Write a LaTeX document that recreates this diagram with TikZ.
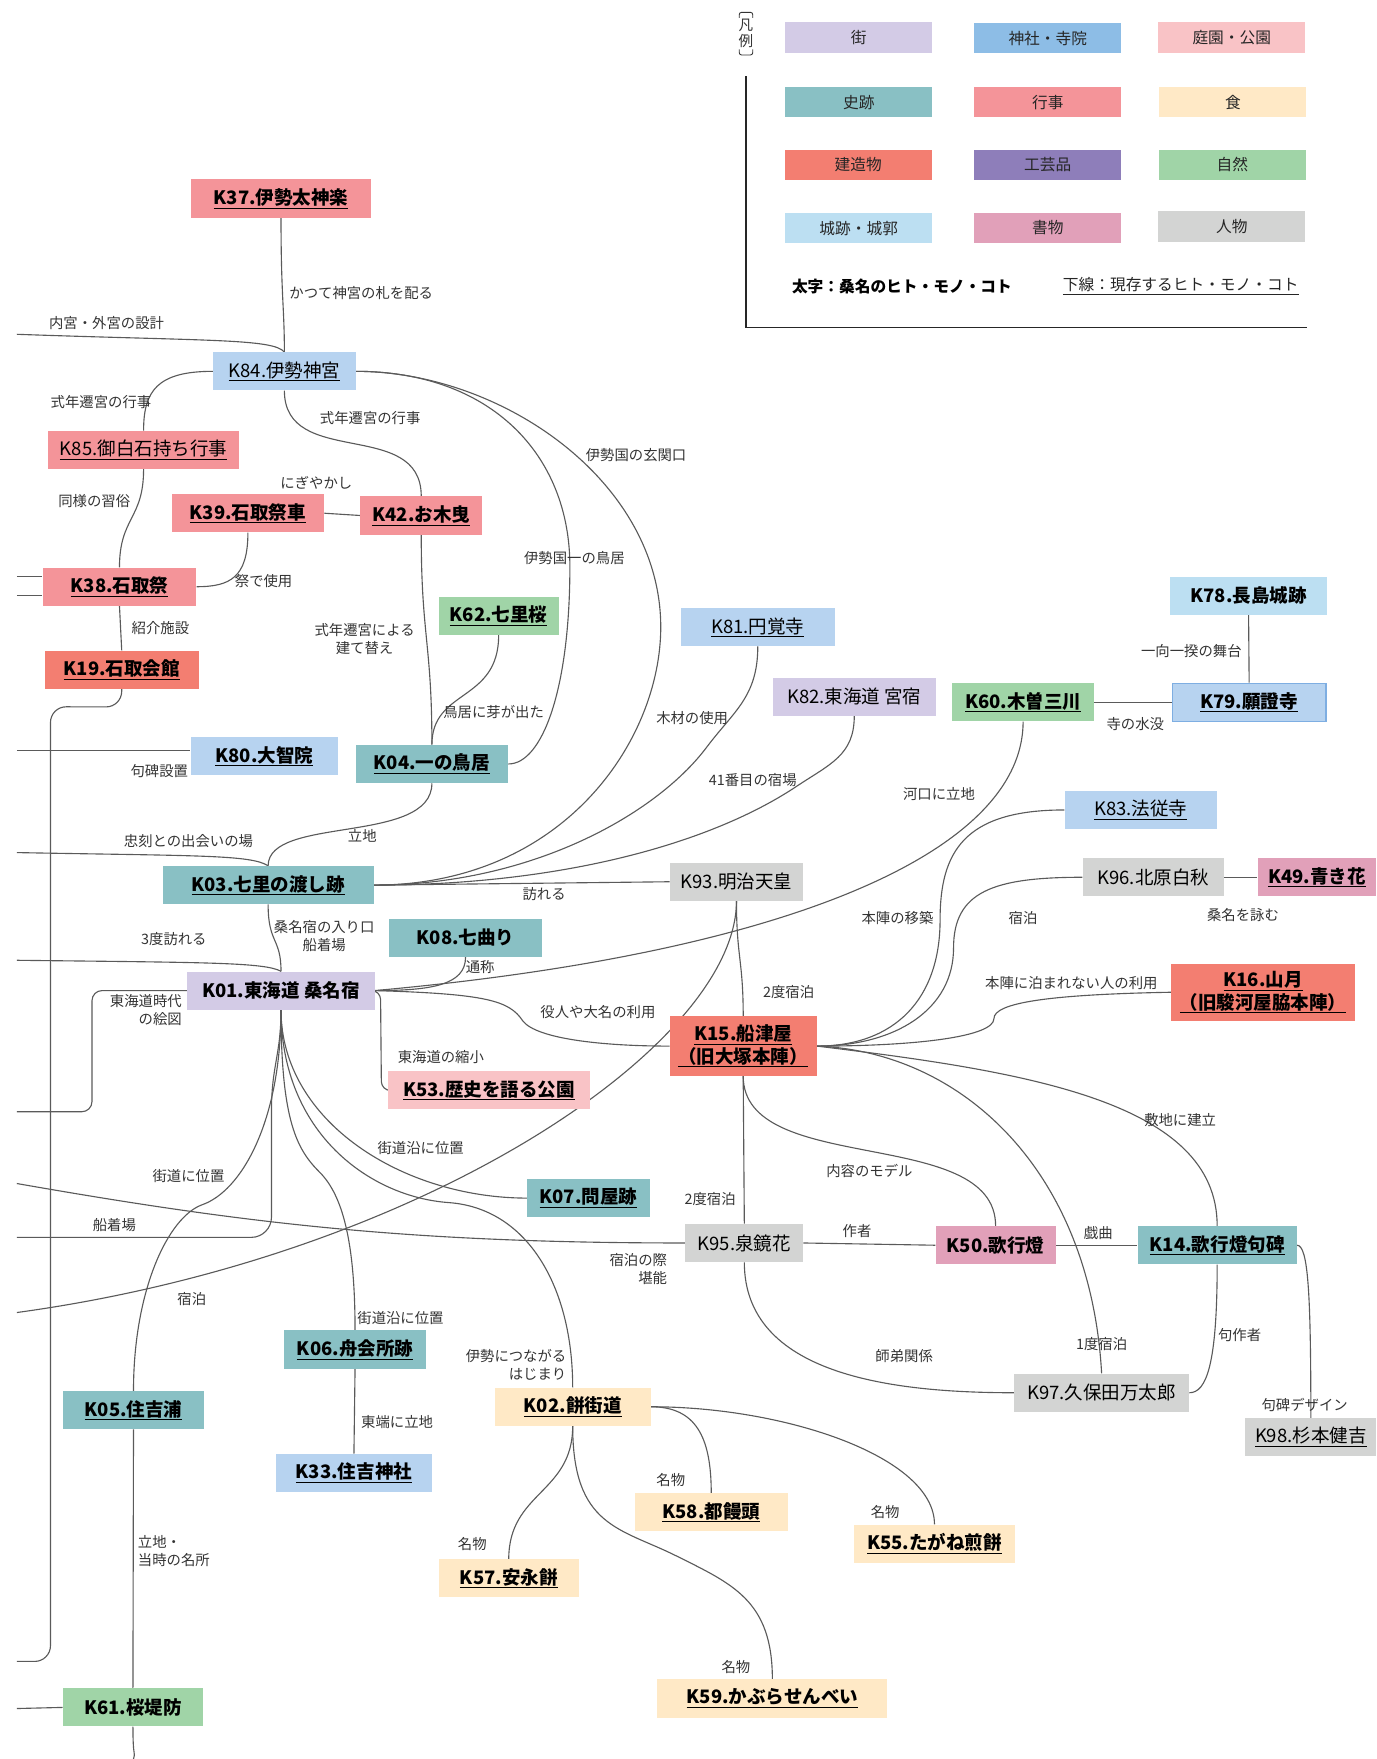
\documentclass[tikz,border=0pt]{standalone}
\usepackage{fontspec}
\setmainfont{Noto Sans CJK JP}
\usetikzlibrary{backgrounds}

\definecolor{cMachi}{HTML}{D3CBE6}
\definecolor{cJisha}{HTML}{8DBDE6}
\definecolor{cTera}{HTML}{B7D3F0}
\definecolor{cTeien}{HTML}{F9C3C6}
\definecolor{cShiseki}{HTML}{89C0C4}
\definecolor{cGyouji}{HTML}{F49499}
\definecolor{cShoku}{HTML}{FFE9C6}
\definecolor{cKenzo}{HTML}{F37E71}
\definecolor{cKougei}{HTML}{8E7EBA}
\definecolor{cShizen}{HTML}{A0D4A7}
\definecolor{cShiro}{HTML}{BCDFF2}
\definecolor{cShomotsu}{HTML}{E1A0B9}
\definecolor{cJinbutsu}{HTML}{D3D4D3}
\definecolor{cLine}{HTML}{5A5A5A}
\definecolor{cWaku}{HTML}{7EAEE2}

\tikzset{
  box/.style={inner sep=0pt, minimum height=34, text=black,
    font=\fontsize{16.5}{20}\selectfont},
  hanrei/.style={inner sep=0pt, minimum width=131, minimum height=27,
    text=black!85, font=\fontsize{14}{16}\selectfont},
  rel/.style={draw=cLine, line width=1pt},
  lab/.style={inner sep=0pt, text=black!80, font=\fontsize{12.8}{16}\selectfont},
}

\begin{document}
\begin{tikzpicture}[x=1pt,y=-1pt]
\useasboundingbox (0,0) rectangle (1227,1568);

% legend
\node[lab, align=center, font=\fontsize{13}{14}\selectfont] (hanreimark) at (665,30) {凡\\例};
\draw[black!80, line width=0.8pt, rounded corners=2] (659,16) -- (659,11) -- (671,11) -- (671,16);
\draw[black!80, line width=0.8pt, rounded corners=2] (659,44) -- (659,49) -- (671,49) -- (671,44);
\draw[black!85, line width=1.5pt] (665,68) -- (665,292) -- (1165,292);
\node[hanrei, fill=cMachi] (lg1) at (765.5,33.5) {街};
\node[hanrei, fill=cJisha] (lg2) at (934,34) {神社・寺院};
\node[hanrei, fill=cTeien] (lg3) at (1098,33.5) {庭園・公園};
\node[hanrei, fill=cShiseki] (lg4) at (765.5,91) {史跡};
\node[hanrei, fill=cGyouji] (lg5) at (934,91) {行事};
\node[hanrei, fill=cShoku] (lg6) at (1099,91) {食};
\node[hanrei, fill=cKenzo] (lg7) at (765,147) {建造物};
\node[hanrei, fill=cKougei] (lg8) at (934,147) {工芸品};
\node[hanrei, fill=cShizen] (lg9) at (1098.5,147) {自然};
\node[hanrei, fill=cShiro] (lg10) at (765.5,203.5) {城跡・城郭};
\node[hanrei, fill=cShomotsu] (lg11) at (934,203) {書物};
\node[hanrei, fill=cJinbutsu] (lg12) at (1098,202) {人物};
\node[inner sep=0pt, font=\fontsize{14}{16}\selectfont\bfseries] (futoji) at (804,255) {太字：桑名のヒト・モノ・コト};
\node[inner sep=0pt, text=black!85, font=\fontsize{14}{16}\selectfont] (shitasen) at (1052.5,255) {\underline{下線：現存するヒト・モノ・コト}};

% nodes
\node[box, fill=cGyouji, minimum width=161] (k37) at (250.5,177) {\textbf{\underline{K37.伊勢太神楽}}};
\node[box, fill=cTera, minimum width=127] (k84) at (253.5,331) {\underline{K84.伊勢神宮}};
\node[box, fill=cGyouji, minimum width=170] (k85) at (128,401) {\underline{K85.御白石持ち行事}};
\node[box, fill=cGyouji, minimum width=136] (k39) at (221,457.5) {\textbf{\underline{K39.石取祭車}}};
\node[box, fill=cGyouji, minimum width=109] (k42) at (375.5,459.5) {\textbf{\underline{K42.お木曳}}};
\node[box, fill=cGyouji, minimum width=137] (k38) at (106.5,523) {\textbf{\underline{K38.石取祭}}};
\node[box, fill=cKenzo, minimum width=137] (k19) at (108.5,597) {\textbf{\underline{K19.石取会館}}};
\node[box, fill=cShizen, minimum width=107] (k62) at (444.5,549) {\textbf{\underline{K62.七里桜}}};
\node[box, fill=cTera, minimum width=137] (k81) at (675.5,559) {\underline{K81.円覚寺}};
\node[box, fill=cMachi, minimum width=145] (k82) at (761.5,621) {K82.東海道 宮宿};
\node[box, fill=cShiro, minimum width=140] (k78) at (1113,531) {\textbf{K78.長島城跡}};
\node[box, fill=cShizen, minimum width=126] (k60) at (912,626) {\textbf{\underline{K60.木曽三川}}};
\node[box, fill=cTera, draw=cWaku, line width=1pt, minimum width=137] (k79) at (1113.5,626) {\textbf{\underline{K79.願證寺}}};
\node[box, fill=cTera, minimum width=131] (k80) at (235.5,674) {\textbf{\underline{K80.大智院}}};
\node[box, fill=cShiseki, minimum width=136] (k04) at (385,681) {\textbf{\underline{K04.一の鳥居}}};
\node[box, fill=cTera, minimum width=136] (k83) at (1017,722) {\underline{K83.法従寺}};
\node[box, fill=cShiseki, minimum width=188] (k03) at (239,789) {\textbf{\underline{K03.七里の渡し跡}}};
\node[box, fill=cJinbutsu, minimum width=119] (k93) at (656.5,786) {K93.明治天皇};
\node[box, fill=cJinbutsu, minimum width=126] (k96) at (1028,782) {K96.北原白秋};
\node[box, fill=cShomotsu, minimum width=106] (k49) at (1174,782) {\textbf{\underline{K49.青き花}}};
\node[box, fill=cShiseki, minimum width=136] (k08) at (415,836) {\textbf{K08.七曲り}};
\node[box, fill=cMachi, minimum width=167] (k01) at (250.5,883) {\textbf{K01.東海道 桑名宿}};
\node[box, fill=cKenzo, minimum width=164, minimum height=51, align=center] (k16) at (1126,884.5) {\textbf{\underline{K16.山月}}\\\textbf{\underline{（旧駿河屋脇本陣）}}};
\node[box, fill=cKenzo, minimum width=131, minimum height=53, align=center] (k15) at (662.5,932.5) {\textbf{\underline{K15.船津屋}}\\\textbf{\underline{（旧大塚本陣）}}};
\node[box, fill=cTeien, minimum width=180] (k53) at (436,972) {\textbf{\underline{K53.歴史を語る公園}}};
\node[box, fill=cShiseki, minimum width=109] (k07) at (524.5,1068) {\textbf{\underline{K07.問屋跡}}};
\node[box, fill=cJinbutsu, minimum width=105] (k95) at (663.5,1108) {K95.泉鏡花};
\node[box, fill=cShomotsu, minimum width=107] (k50) at (887.5,1110) {\textbf{K50.歌行燈}};
\node[box, fill=cShiseki, minimum width=142] (k14) at (1085,1110) {\textbf{\underline{K14.歌行燈句碑}}};
\node[box, fill=cShiseki, minimum width=127] (k06) at (316.5,1203) {\textbf{\underline{K06.舟会所跡}}};
\node[box, fill=cJinbutsu, minimum width=156] (k97) at (982,1241.5) {K97.久保田万太郎};
\node[box, fill=cShiseki, minimum width=126] (k05) at (119,1257) {\textbf{\underline{K05.住吉浦}}};
\node[box, fill=cShoku, minimum width=139] (k02) at (510.5,1254) {\textbf{\underline{K02.餅街道}}};
\node[box, fill=cJinbutsu, minimum width=117] (k98) at (1168.5,1281) {\underline{K98.杉本健吉}};
\node[box, fill=cTera, minimum width=139] (k33) at (315.5,1313) {\textbf{\underline{K33.住吉神社}}};
\node[box, fill=cShoku, minimum width=136] (k58) at (634,1348) {\textbf{\underline{K58.都饅頭}}};
\node[box, fill=cShoku, minimum width=144] (k55) at (833,1376) {\textbf{\underline{K55.たがね煎餅}}};
\node[box, fill=cShoku, minimum width=125] (k57) at (453.5,1407) {\textbf{\underline{K57.安永餅}}};
\node[box, fill=cShoku, minimum width=205] (k59) at (688.5,1514) {\textbf{\underline{K59.かぶらせんべい}}};
\node[box, fill=cShizen, minimum width=125] (k61) at (118.5,1522) {\textbf{K61.桜堤防}};

% free ends at the page edge
\coordinate (c1) at (15,298);
\coordinate (c2) at (15,514);
\coordinate (c3) at (15,531);
\coordinate (c4) at (15,1481);
\coordinate (c5) at (15,669);
\coordinate (c6) at (15,760);
\coordinate (c7) at (15,1170);
\coordinate (c8) at (15,1055);
\coordinate (c9) at (15,1103);
\coordinate (c10) at (15,991);
\coordinate (c11) at (15,856);
\coordinate (c12) at (15,1523);
\coordinate (c13) at (119,1568);

% labels
\node[lab] (t01) at (322,261) {かつて神宮の札を配る};
\node[lab] (t02) at (95,288) {内宮・外宮の設計};
\node[lab] (t03) at (90,358) {式年遷宮の行事};
\node[lab] (t04) at (330,373) {式年遷宮の行事};
\node[lab] (t05) at (84,447) {同様の習俗};
\node[lab] (t06) at (282,430) {にぎやかし};
\node[lab] (t07) at (235,518) {祭で使用};
\node[lab] (t08) at (143,560) {紹介施設};
\node[lab, align=center] (t09) at (325,570) {式年遷宮による\\建て替え};
\node[lab] (t10) at (440,635) {鳥居に芽が出た};
\node[lab] (t11) at (512,497) {伊勢国一の鳥居};
\node[lab] (t12) at (567,406) {伊勢国の玄関口};
\node[lab] (t13) at (142,687) {句碑設置};
\node[lab] (t14) at (323,745) {立地};
\node[lab] (t15) at (168,750) {忠刻との出会いの場};
\node[lab] (t16) at (617,640) {木材の使用};
\node[lab] (t17) at (671,695) {41番目の宿場};
\node[lab] (t18) at (837,708) {河口に立地};
\node[lab] (t19) at (485,797) {訪れる};
\node[lab] (t20) at (1012,645) {寺の水没};
\node[lab] (t21) at (1062,580) {一向一揆の舞台};
\node[lab] (t22) at (800,818) {本陣の移築};
\node[lab] (t23) at (912,818) {宿泊};
\node[lab] (t24) at (1108,816) {桑名を詠む};
\node[lab] (t25) at (955,876) {本陣に泊まれない人の利用};
\node[lab] (t26) at (155,837) {3度訪れる};
\node[lab, align=center] (t27) at (289,834) {桑名宿の入り口\\船着場};
\node[lab] (t28) at (428,862) {通称};
\node[lab, align=right] (t29) at (130,900) {東海道時代\\の絵図};
\node[lab] (t30) at (533,902) {役人や大名の利用};
\node[lab] (t31) at (703,884) {2度宿泊};
\node[lab] (t32) at (393,942) {東海道の縮小};
\node[lab] (t33) at (1052,998) {敷地に建立};
\node[lab] (t34) at (775,1044) {内容のモデル};
\node[lab] (t35) at (375,1023) {街道沿に位置};
\node[lab] (t36) at (633,1069) {2度宿泊};
\node[lab] (t37) at (168,1048) {街道に位置};
\node[lab] (t38) at (102,1092) {船着場};
\node[lab, align=right] (t39) at (569,1131) {宿泊の際\\堪能};
\node[lab] (t40) at (764,1097) {作者};
\node[lab] (t41) at (979,1099) {戯曲};
\node[lab] (t42) at (171,1158) {宿泊};
\node[lab, align=right] (t43) at (460,1217) {伊勢につながる\\はじまり};
\node[lab] (t44) at (982,1198) {1度宿泊};
\node[lab] (t45) at (1105,1190) {句作者};
\node[lab] (t46) at (806,1209) {師弟関係};
\node[lab] (t47) at (357,1175) {街道沿に位置};
\node[lab] (t48) at (354,1268) {東端に立地};
\node[lab] (t49) at (1163,1252) {句碑デザイン};
\node[lab, align=left] (t50) at (155,1383) {立地・\\当時の名所};
\node[lab] (t51) at (421,1376) {名物};
\node[lab] (t52) at (598,1319) {名物};
\node[lab] (t53) at (789,1348) {名物};
\node[lab] (t54) at (656,1486) {名物};

\begin{pgfonlayer}{background}
\draw[rel] (k37.south) .. controls +(0,70) and +(0,-40) .. (k84.north);
\draw[rel] (c1) .. controls +(170,6) and +(-10,-12) .. (k84.north);
\draw[rel] (k84.west) .. controls +(-50,0) and +(0,-35) .. (k85.north);
\draw[rel] (k84.south) .. controls +(0,70) and +(0,-70) .. (k42.north);
\draw[rel] (k84.east) .. controls +(120,0) and +(0,-100) .. (508,505) .. controls +(0,110) and +(30,0) .. (k04.east);
\draw[rel] (k84.east) .. controls +(130,0) and +(0,-130) .. (589,559) .. controls +(0,100) and +(170,0) .. (k03.east);
\draw[rel] (k85.south) .. controls +(0,45) and +(0,-45) .. (k38.north);
\draw[rel] (k39.east) -- (k42.west);
\draw[rel] (k39.south) .. controls +(0,40) and +(30,0) .. (k38.east);
\draw[rel] (k38.south) -- (k19.north);
\draw[rel] (c2) -- (c2 -| k38.west);
\draw[rel] (c3) -- (c3 -| k38.west);
\draw[rel] (k42.south) .. controls +(0,90) and +(0,-90) .. (k04.north);
\draw[rel] (k62.south) .. controls +(0,60) and +(0,-50) .. (k04.north);
\draw[rel, rounded corners=14] (k19.south) -- ++(0,16) -- (45,630) -- (45,1481) -- (c4);
\draw[rel] (c5) -- (c5 -| k80.west);
\draw[rel] (k04.south) .. controls +(0,55) and +(0,-45) .. (k03.north);
\draw[rel] (c6) .. controls +(160,3) and +(-15,-10) .. (k03.north);
\draw[rel] (k81.south) .. controls +(0,45) and +(24,-32) .. (630,666) .. controls +(-45,60) and +(140,0) .. (k03.east);
\draw[rel] (k82.south) .. controls +(0,35) and +(30,-20) .. (710,701) .. controls +(-75,50) and +(170,0) .. (k03.east);
\draw[rel] (k93.west) -- (k03.east);
\draw[rel] (k60.south) .. controls +(0,117) and +(366,-33) .. (k01.east);
\draw[rel] (k60.east) -- (k79.west);
\draw[rel] (k78.south) -- (k79.north);
\draw[rel] (k83.west) .. controls +(-90,0) and +(0,-60) .. (838,820) .. controls +(0,70) and +(70,0) .. (k15.east);
\draw[rel] (k96.west) .. controls +(-80,0) and +(0,-50) .. (850,845) .. controls +(0,55) and +(70,0) .. (k15.east);
\draw[rel] (k96.east) -- (k49.west);
\draw[rel] (k16.west) .. controls +(-110,2) and +(0,-14) .. (886,908) .. controls +(0,16) and +(90,0) .. (k15.east);
\draw[rel] (k15.east) .. controls +(190,23) and +(0,-110) .. (k14.north);
\draw[rel] (k15.east) .. controls +(130,5) and +(-10,-180) .. (k97.north);
\draw[rel] (k15.south) .. controls +(0,90) and +(0,-90) .. (k50.north);
\draw[rel] (k15.south) -- (k95.north);
\draw[rel] (k93.south) .. controls +(0,50) and +(0,-50) .. (k15.north);
\draw[rel] (k93.south) .. controls +(0,127) and +(365,-50) .. (c7);
\draw[rel] (c8) .. controls +(200,35) and +(-250,0) .. (k95.west);
\draw[rel] (k01.south) .. controls +(0,40) and +(0,-40) .. (242,990) [rounded corners=18] -- (242,1103) -- (c9);
\draw[rel, rounded corners=9] (k01.west) -- (82,883) -- (82,991) -- (c10);
\draw[rel] (c11) .. controls +(170,2) and +(-15,-8) .. (k01.north);
\draw[rel] (k03.south) .. controls +(0,35) and +(0,-30) .. (k01.north);
\draw[rel] (k08.south) .. controls +(0,25) and +(50,0) .. (k01.east);
\draw[rel] (k01.east) .. controls +(100,3) and +(-12,-18) .. (466,910) .. controls +(12,16) and +(-60,0) .. (k15.west);
\draw[rel, rounded corners=8] (k01.east) -- ++(5,0) -- (340,972) -- (k53.west);
\draw[rel] (k01.south) .. controls +(0,100) and +(-110,0) .. (k07.west);
\draw[rel] (k01.south) .. controls +(0,110) and +(-70,-5) .. (400,1072) .. controls +(70,5) and +(0,-90) .. (k02.north);
\draw[rel] (k01.south) .. controls +(0,100) and +(-20,-20) .. (285,1045) .. controls +(20,20) and +(0,-80) .. (k06.north);
\draw[rel] (k01.south) .. controls +(0,100) and +(35,-12) .. (180,1074) .. controls +(-30,11) and +(0,-90) .. (k05.north);
\draw[rel] (k05.south) -- (k61.north);
\draw[rel] (k61.west) -- (c12);
\draw[rel] (k61.south) .. controls +(0,30) and +(2,-8) .. (c13);
\draw[rel] (k06.south) -- (k33.north);
\draw[rel] (k02.south) .. controls +(0,60) and +(0,-60) .. (k57.north);
\draw[rel] (k02.south) .. controls +(0,90) and +(-50,-25) .. (603,1387) .. controls +(50,25) and +(0,-70) .. (k59.north);
\draw[rel] (k02.east) .. controls +(40,0) and +(0,-50) .. (k58.north);
\draw[rel] (k02.east) .. controls +(120,0) and +(0,-60) .. (k55.north);
\draw[rel] (k95.east) -- (k50.west);
\draw[rel] (k50.east) -- (k14.west);
\draw[rel] (k95.south) .. controls +(0,100) and +(-110,0) .. (k97.west);
\draw[rel] (k14.south) .. controls +(0,90) and +(15,0) .. (k97.east);
\draw[rel] (k14.east) .. controls +(10,0) and +(0,-110) .. (k98.north);
\end{pgfonlayer}
\end{tikzpicture}
\end{document}
